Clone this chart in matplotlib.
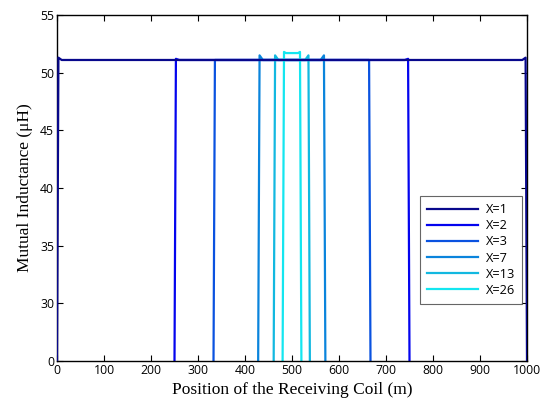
import numpy as np
import matplotlib
matplotlib.use("Agg")
import matplotlib.pyplot as plt
from matplotlib.ticker import FixedLocator

# Mutual inductance along the track for different numbers of transmitting segments
labels = ["X=1", "X=2", "X=3", "X=7", "X=13", "X=26"]
colors = ["#08088c", "#0404ee", "#0a52e0", "#0a84dc", "#12b8e0", "#14e6f0"]

# breakpoints (position in m) and mutual inductance (uH) for each case
pos_x1 = [0, 3, 10, 990, 997, 1000]
val_x1 = [0, 51.3, 51.1, 51.1, 51.3, 0]
pos_x2 = [250, 253, 260, 740, 747, 750]
val_x2 = [0, 51.2, 51.1, 51.1, 51.2, 0]
pos_x3 = [333, 336, 343, 657, 664, 667]
val_x3 = [0, 51.1, 51.1, 51.1, 51.1, 0]
pos_x7 = [428, 431, 438, 561, 568, 571]
val_x7 = [0, 51.5, 51.1, 51.1, 51.5, 0]
pos_x13 = [461, 464, 471, 528, 535, 538]
val_x13 = [0, 51.5, 51.1, 51.1, 51.5, 0]
pos_x26 = [480, 483, 487, 513, 517, 520]
val_x26 = [0, 51.8, 51.7, 51.7, 51.8, 0]

positions = [pos_x1, pos_x2, pos_x3, pos_x7, pos_x13, pos_x26]
values = [val_x1, val_x2, val_x3, val_x7, val_x13, val_x26]

y_ticks = [0, 30, 35, 40, 45, 50, 55]
x_ticks = list(range(0, 1001, 100))


# compressed lower part of the y axis: 0..30 squeezed into one tick interval
def fwd(y):
    y = np.asarray(y, dtype=float)
    return np.where(y < 30, 25 + y / 6.0, y)


def inv(z):
    z = np.asarray(z, dtype=float)
    return np.where(z < 30, (z - 25) * 6.0, z)


fig = plt.figure(figsize=(5.47, 4.07), dpi=100)
ax = fig.add_axes([57 / 547, 1 - 361 / 407, 470 / 547, 346 / 407])

lines = []
for px, py, c, lab in zip(positions, values, colors, labels):
    ln, = ax.plot(px, py, color=c, lw=1.6, label=lab)
    lines.append(ln)
# draw the full-length case on top
lines[0].set_zorder(5)

ax.set_yscale("function", functions=(fwd, inv))
ax.set_ylim(0, 55)
ax.set_xlim(0, 1000)
ax.yaxis.set_major_locator(FixedLocator(y_ticks))
ax.xaxis.set_major_locator(FixedLocator(x_ticks))
ax.minorticks_off()

tick_font = "Open Sans"
ax.tick_params(direction="in", top=True, right=True, length=4, width=0.8,
               labelsize=8.8, pad=2)
for t in ax.get_xticklabels() + ax.get_yticklabels():
    t.set_fontfamily(tick_font)
for s in ax.spines.values():
    s.set_linewidth(1.0)

ax.set_xlabel("Position of the Receiving Coil (m)", family="Liberation Serif",
              fontsize=12.5, labelpad=4)
ax.set_ylabel("Mutual Inductance (\u03bcH)", family="Liberation Serif",
              fontsize=12.5, labelpad=5)

leg = ax.legend(loc="upper right", bbox_to_anchor=(0.99, 0.477),
                prop={"family": tick_font, "size": 9.2}, fancybox=False,
                frameon=True, edgecolor="#404040", handlelength=4.0,
                labelspacing=0.25, borderpad=0.55, handletextpad=0.6,
                borderaxespad=0)
leg.get_frame().set_linewidth(0.8)

fig.savefig("out.png", dpi=100)
